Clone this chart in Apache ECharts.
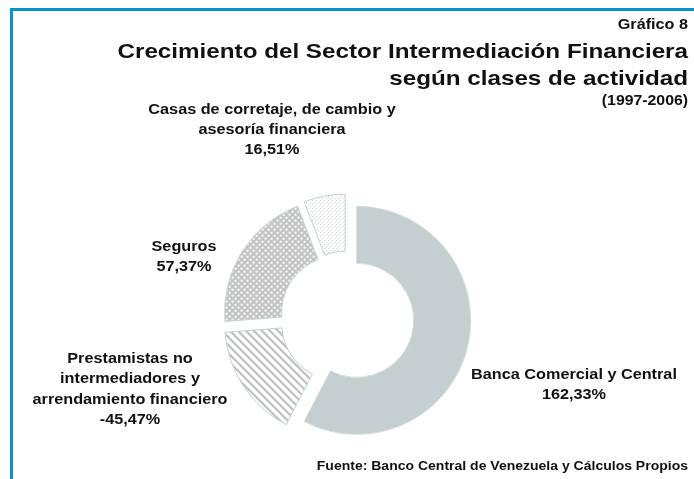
<!DOCTYPE html>
<html>
<head>
<meta charset="utf-8">
<script src="https://cdn.jsdelivr.net/npm/echarts@6/dist/echarts.min.js"></script>
<style>
html,body{margin:0;padding:0;background:#fff;}
#chart{width:694px;height:479px;}
</style>
</head>
<body>
<div id="chart"></div>
<script>
// ---- data ----
var categories = [
  'Banca Comercial y Central',
  'Prestamistas no\nintermediadores y\narrendamiento financiero',
  'Seguros',
  'Casas de corretaje, de cambio y\nasesoría financiera'
];
var growthValues = [162.33, -45.47, 57.37, 16.51];

var titleLines = ['Gráfico 8', 'Crecimiento del Sector Intermediación Financiera', 'según clases de actividad', '(1997-2006)'];
var sourceText = 'Fuente: Banco Central de Venezuela y Cálculos Propios';

// ---- patterns ----
function makeTile(w, h, fn) {
  var c = document.createElement('canvas');
  c.width = w; c.height = h;
  var ctx = c.getContext('2d');
  fn(ctx, w, h);
  return c;
}
var stripeTile = makeTile(8, 8, function (ctx, w, h) {
  ctx.fillStyle = '#ffffff'; ctx.fillRect(0, 0, w, h);
  ctx.fillStyle = '#bdbdbd';
  for (var y = 0; y < h; y++) for (var x = 0; x < w; x++) {
    var m = ((x - y) % 8 + 8) % 8;
    if (m < 3) ctx.fillRect(x, y, 1, 1);
  }
});
var checkTile = makeTile(6, 6, function (ctx, w, h) {
  ctx.fillStyle = '#c4c4c4'; ctx.fillRect(0, 0, w, h);
  ctx.fillStyle = '#ffffff';
  ctx.fillRect(0, 0, 2, 2);
  ctx.fillRect(3, 3, 2, 2);
});
var dotTile = makeTile(4, 4, function (ctx, w, h) {
  ctx.fillStyle = '#ffffff'; ctx.fillRect(0, 0, w, h);
  ctx.fillStyle = '#c4c4c4';
  ctx.fillRect(0, 0, 1, 1);
  ctx.fillRect(2, 2, 1, 1);
});
var sliceStyles = [
  { color: '#c5cfd0', borderColor: '#d5dddd' },
  { color: { image: stripeTile, repeat: 'repeat' }, borderColor: '#c3d2d5' },
  { color: { image: checkTile, repeat: 'repeat' }, borderColor: '#c3d2d5' },
  { color: { image: dotTile, repeat: 'repeat' }, borderColor: '#c3d2d5' }
];
var labelPos = [[574, 385], [130, 389.5], [184, 257], [272, 130]];
var FONT = 'Liberation Sans, Arial, sans-serif';
var STRETCH = 1.16;

function fmt(v) {
  return v.toFixed(2).replace('.', ',') + '%';
}

var pieData = categories.map(function (name, i) {
  return {
    name: name,
    value: Math.abs(growthValues[i]),
    selected: true,
    itemStyle: Object.assign({ borderWidth: 1 }, sliceStyles[i])
  };
});

function txt(text, x, y, size, scaleX, align, vAlign, lh) {
  return {
    type: 'text', x: x, y: y, scaleX: scaleX, silent: true,
    style: {
      text: text, font: 'bold ' + size + 'px ' + FONT, fill: '#111',
      textAlign: align, textVerticalAlign: vAlign, lineHeight: lh || 20
    }
  };
}

var graphics = [
  { type: 'rect', shape: { x: 10, y: 8, width: 684, height: 3 }, style: { fill: '#0a93c6' }, silent: true },
  { type: 'rect', shape: { x: 10, y: 8, width: 3, height: 471 }, style: { fill: '#0a93c6' }, silent: true },
  txt(titleLines[0], 688, 24.5, 15, 1.08, 'right', 'middle'),
  txt(titleLines[1], 688, 52.5, 21, 1.153, 'right', 'middle'),
  txt(titleLines[2], 688, 79.5, 21, 1.153, 'right', 'middle'),
  txt(titleLines[3], 688, 101.5, 14, 1.13, 'right', 'middle'),
  txt(sourceText, 688, 467, 12, 1.167, 'right', 'middle')
];
categories.forEach(function (name, i) {
  graphics.push(txt(name + '\n' + fmt(growthValues[i]), labelPos[i][0], labelPos[i][1], 14, STRETCH, 'center', 'middle', 20.3));
});

var chart = echarts.init(document.getElementById('chart'), null, { renderer: 'canvas' });
chart.setOption({
  animation: false,
  backgroundColor: '#ffffff',
  graphic: graphics,
  series: [{
    type: 'pie',
    center: [347, 318],
    radius: [57, 114],
    startAngle: 90,
    clockwise: true,
    selectedMode: 'multiple',
    selectedOffset: 10,
    avoidLabelOverlap: false,
    emphasis: { disabled: true },
    label: { show: false },
    labelLine: { show: false },
    data: pieData
  }]
});
</script>
</body>
</html>
